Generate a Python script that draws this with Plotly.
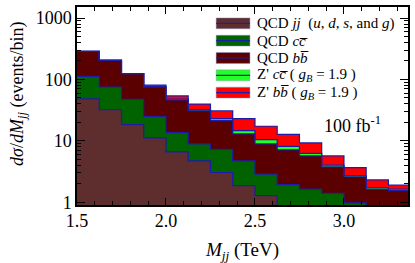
import numpy as np
import plotly.graph_objects as go

# bin edges (TeV)
bin_lo = [1.5, 1.625, 1.75, 1.875, 2.0, 2.125, 2.25, 2.375, 2.5, 2.625, 2.75, 2.875, 3.0, 3.125, 3.25]
bin_width = 0.125

# events/bin per component (stacked)
qcd_jj = [48.3, 32.1, 18.4, 11.2, 6.6, 4.7, 3.05, 1.86, 1.28, 0.88, 0.6, 0.4, 0.3, 0.2, 0.15]
qcd_cc = [63.7, 43.3, 29.2, 13.8, 7.0, 4.25, 4.22, 2.84, 1.59, 1.05, 1.04, 1.0, 0.68, 0.5, 0.35]
qcd_bb = [175.0, 129.6, 76.4, 50.4, 32.9, 21.95, 14.03, 8.3, 6.08, 5.2, 4.03, 2.37, 1.62, 0.92, 1.05]
zp_cc = [0.3, 0.3, 0.3, 1.1, 1.5, 1.1, 1.7, 1.7, 1.55, 0.99, 0.59, 0.24, 0.10, 0.09, 0.09]
zp_bb = [0.8, 0.6, 0.6, 4.7, 6.2, 7.5, 7.9, 8.3, 6.8, 4.58, 3.03, 1.66, 0.97, 0.61, 0.27]

OV = "\u0305"
series = [
    ("QCD <i>jj</i>  (<i>u</i>, <i>d</i>, <i>s</i>, and <i>g</i>)", qcd_jj, "#5e2e2e"),
    ("QCD <i>cc" + OV + "</i>", qcd_cc, "#006300"),
    ("QCD <i>bb" + OV + "</i>", qcd_bb, "#5a0000"),
    ("Z' <i>cc" + OV + "</i> ( <i>g</i><sub><i>B</i></sub> = 1.9 )", zp_cc, "#22ff22"),
    ("Z' <i>bb" + OV + "</i> ( <i>g</i><sub><i>B</i></sub> = 1.9 )", zp_bb, "#ff0000"),
]

outline = "#1c1ca8"
FONT = "Liberation Serif, Times New Roman, serif"

edges = list(bin_lo) + [bin_lo[-1] + bin_width]
centers = [b + bin_width / 2 for b in bin_lo]

fig = go.Figure()
cum = np.zeros(len(bin_lo))
cums = []
for name, vals, col in series:
    cum = cum + np.array(vals)
    cums.append((cum.copy(), col, name))

# draw cumulative bars from top to bottom (overlay)
for c, col, name in reversed(cums):
    fig.add_trace(go.Bar(x=centers, y=c, width=bin_width, marker=dict(color=col, line=dict(width=0)),
                         showlegend=False, name=name))
for c, col, name in cums:
    fig.add_trace(go.Scatter(x=edges, y=list(c) + [c[-1]], mode="lines", line=dict(color=outline, width=1.2, shape="hv"),
                             showlegend=False, hoverinfo="skip"))

# custom legend
W, H = 333.0, 200.0
def px(x):
    return (x - 77) / W
def py(y):
    return (204.5 - y) / H

rows = [21, 38.5, 56, 73.5, 91]
for (name, vals, col), ry in zip(series, rows):
    fig.add_shape(type="rect", xref="paper", yref="paper", x0=px(217), x1=px(251), y0=py(ry + 5.5), y1=py(ry - 5.5),
                  fillcolor=col, line=dict(color="rgba(150,150,200,0.6)", width=0.8))
    fig.add_shape(type="line", xref="paper", yref="paper", x0=px(217), x1=px(251), y0=py(ry), y1=py(ry),
                  line=dict(color=outline, width=1.2))
    fig.add_annotation(text=name, xref="paper", yref="paper", x=px(256), y=py(ry), xanchor="left", yanchor="middle",
                       showarrow=False, font=dict(family=FONT, size=15, color="black"))

fig.add_annotation(text="100 fb<sup>-1</sup>", xref="paper", yref="paper", x=px(354), y=py(123),
                   xanchor="center", yanchor="middle", showarrow=False, font=dict(family=FONT, size=18, color="black"))

# y-axis title
fig.add_annotation(text="<i>d</i><i>σ</i>/<i>dM</i><sub><i>jj</i></sub> (events/bin)", xref="paper", yref="paper",
                   x=px(18), y=py(92), textangle=-90, xanchor="center", yanchor="middle", showarrow=False,
                   font=dict(family=FONT, size=18, color="black"))

fig.update_layout(
    width=415, height=263,
    margin=dict(l=77, r=5, t=5, b=58),
    paper_bgcolor="white", plot_bgcolor="white",
    barmode="overlay", bargap=0,
    font=dict(family=FONT, size=18, color="black"),
    showlegend=False,
)
fig.update_xaxes(
    range=[1.5, 3.36], tickmode="array", tickvals=[1.5, 2.0, 2.5, 3.0], ticktext=["1.5", "2.0", "2.5", "3.0"],
    ticks="inside", ticklen=7, tickwidth=1, tickcolor="black", showline=True, linecolor="black", linewidth=1.5,
    mirror="ticks", showgrid=False, zeroline=False,
    minor=dict(ticks="inside", ticklen=4, dtick=0.1, tick0=1.5, tickcolor="black", showgrid=False),
    title=dict(text="<i>M</i><sub><i>jj</i></sub> (TeV)", font=dict(family=FONT, size=19), standoff=12),
    tickfont=dict(family=FONT, size=18), ticklabelstandoff=-1,
)
fig.update_yaxes(
    type="log", range=[-0.045, 3.18], tickmode="array", tickvals=[1, 10, 100, 1000], ticktext=["1", "10", "100", "1000"],
    ticks="inside", ticklen=8, tickwidth=1, tickcolor="black", showline=True, linecolor="black", linewidth=1.5,
    mirror="ticks", showgrid=False, zeroline=False,
    minor=dict(ticks="inside", ticklen=4, tickvals=[m * 10 ** e for e in range(0, 4) for m in range(2, 10)],
               tickcolor="black", showgrid=False),
    tickfont=dict(family=FONT, size=18),
)

fig.write_html("out.html", config={"displayModeBar": False},
               post_script="document.body.style.margin='0';")
